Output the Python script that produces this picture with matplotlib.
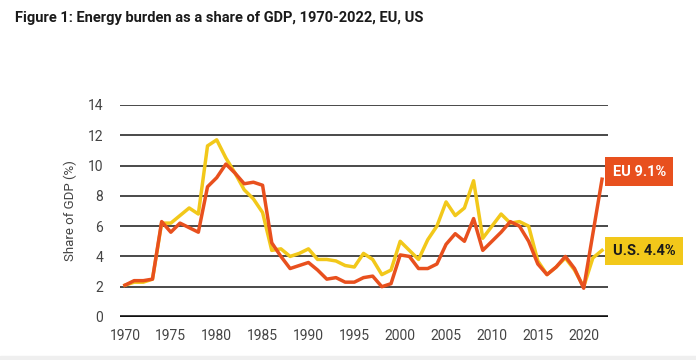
import matplotlib.pyplot as plt
from matplotlib.patches import Rectangle

plt.rcParams['font.family'] = ['Roboto', 'DejaVu Sans']

years = list(range(1970, 2023))
eu = [2.1, 2.4, 2.4, 2.5, 6.3, 5.6, 6.2, 5.9, 5.6, 8.6,
      9.2, 10.1, 9.5, 8.8, 8.9, 8.7, 4.9, 4.0, 3.2, 3.4,
      3.6, 3.1, 2.5, 2.6, 2.3, 2.3, 2.6, 2.7, 2.0, 2.2,
      4.1, 4.0, 3.2, 3.2, 3.5, 4.8, 5.5, 5.0, 6.5, 4.4,
      5.0, 5.6, 6.3, 6.0, 5.0, 3.5, 2.8, 3.3, 4.0, 3.2,
      1.9, 5.5, 9.1]
us = [2.1, 2.3, 2.3, 2.5, 6.2, 6.2, 6.7, 7.2, 6.8, 11.3,
      11.7, 10.5, 9.5, 8.4, 7.8, 6.9, 4.4, 4.5, 4.0, 4.2,
      4.5, 3.8, 3.8, 3.7, 3.4, 3.3, 4.2, 3.8, 2.8, 3.1,
      5.0, 4.4, 3.8, 5.1, 6.0, 7.6, 6.7, 7.2, 9.0, 5.2,
      6.0, 6.8, 6.2, 6.3, 6.0, 3.7, 2.8, 3.3, 3.9, 3.1,
      2.0, 3.9, 4.4]
yticks = [0, 2, 4, 6, 8, 10, 12, 14]
xticks = list(range(1970, 2021, 5))

eu_color = '#e8501e'
us_color = '#f2c81a'

fig = plt.figure(figsize=(6.96, 3.6), dpi=100)
fig.patches.append(Rectangle((0, 0), 1, 4 / 360, transform=fig.transFigure,
                             color='#efefef', zorder=0))
ax = fig.add_axes([120 / 696, 1 - 317 / 360, 488 / 696, 212 / 360])

for y in yticks[1:]:
    ax.axhline(y, color='#3a3a3a', lw=1.3, zorder=1)
ax.axhline(0, color='#111111', lw=2.6, zorder=1)

ax.plot(years, us, color=us_color, lw=2.5, zorder=3, clip_on=False)
ax.plot(years, eu, color=eu_color, lw=2.5, zorder=4, clip_on=False)

ax.set_xlim(1969.46, 2022.65)
ax.set_ylim(0, 14)
ax.set_yticks(yticks)
ax.set_xticks(xticks)
ax.tick_params(length=0, colors='#444444', labelsize=10)
ax.tick_params(axis='y', pad=12)
ax.tick_params(axis='x', pad=9)
for s in ax.spines.values():
    s.set_visible(False)
ax.set_ylabel('Share of GDP (%)', color='#444444', fontsize=9.5, labelpad=8)

# end labels
ax.text(2023.15, 9.6, 'EU 9.1%', color='white', fontsize=10.5, fontweight='bold',
        va='center', ha='left', clip_on=False,
        bbox=dict(boxstyle='square,pad=0.5', fc=eu_color, ec='none'))
ax.text(2023.15, 4.35, 'U.S. 4.4%', color='#1a1a1a', fontsize=10.5, fontweight='bold',
        va='center', ha='left', clip_on=False,
        bbox=dict(boxstyle='square,pad=0.5', fc=us_color, ec='none'))

fig.text(15 / 696, 1 - 18 / 360, 'Figure 1: Energy burden as a share of GDP, 1970-2022, EU, US',
         fontsize=10.5, fontweight='bold', color='#1a1a1a', va='center', ha='left')

fig.savefig('out.png', dpi=100)
